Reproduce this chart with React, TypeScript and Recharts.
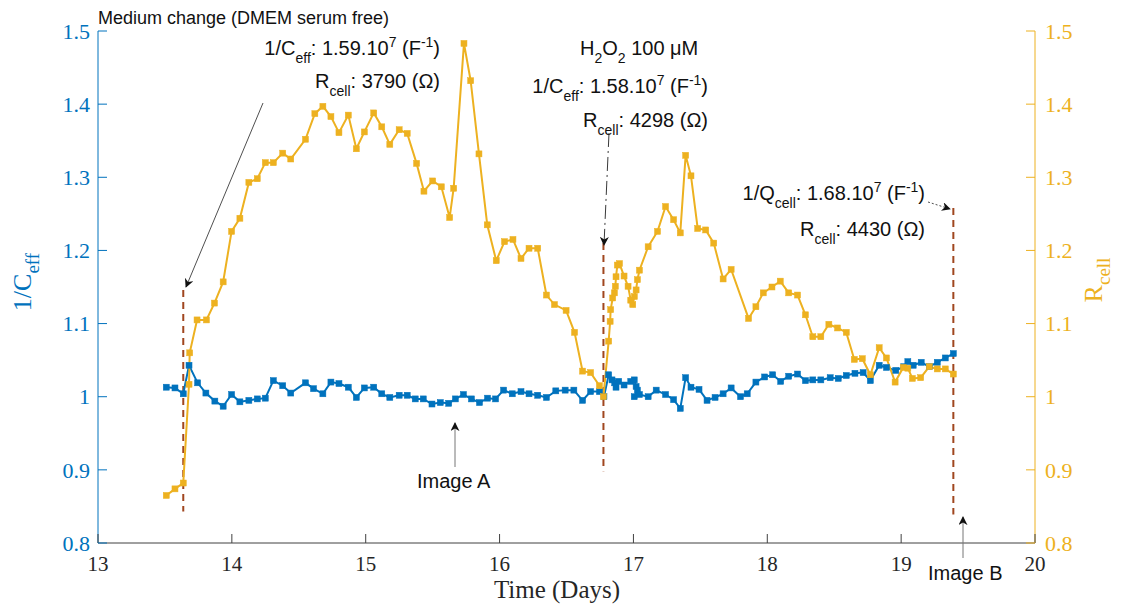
import React from 'react';
import { ComposedChart, Line, XAxis, YAxis, ReferenceLine } from 'recharts';

const xTicks = [13, 14, 15, 16, 17, 18, 19, 20];
const yTicks = [0.8, 0.9, 1, 1.1, 1.2, 1.3, 1.4, 1.5];

// R_cell (right axis)
const rDays = [13.51, 13.575, 13.637, 13.68, 13.685, 13.74, 13.81, 13.87, 13.935, 13.998, 14.06, 14.127, 14.19, 14.25, 14.31, 14.38, 14.44, 14.55, 14.62, 14.68, 14.74, 14.8, 14.87, 14.93, 14.99, 15.06, 15.12, 15.18, 15.25, 15.31, 15.38, 15.435, 15.5, 15.565, 15.627, 15.657, 15.734, 15.784, 15.846, 15.908, 15.975, 16.037, 16.1, 16.16, 16.22, 16.285, 16.35, 16.41, 16.497, 16.56, 16.62, 16.68, 16.746, 16.776, 16.815, 16.826, 16.83, 16.845, 16.858, 16.865, 16.87, 16.88, 16.896, 16.93, 16.96, 16.98, 16.995, 17.007, 17.02, 17.03, 17.045, 17.11, 17.18, 17.24, 17.3, 17.35, 17.39, 17.43, 17.48, 17.54, 17.6, 17.67, 17.73, 17.86, 17.915, 17.97, 18.035, 18.097, 18.16, 18.226, 18.285, 18.34, 18.4, 18.46, 18.525, 18.59, 18.65, 18.71, 18.77, 18.836, 18.89, 18.955, 19.016, 19.05, 19.084, 19.146, 19.21, 19.27, 19.33, 19.39];
const rVals = [0.865, 0.874, 0.882, 1.017, 1.06, 1.105, 1.105, 1.128, 1.157, 1.226, 1.244, 1.293, 1.298, 1.32, 1.32, 1.333, 1.325, 1.352, 1.387, 1.397, 1.383, 1.361, 1.385, 1.339, 1.362, 1.388, 1.369, 1.345, 1.365, 1.36, 1.319, 1.281, 1.295, 1.287, 1.245, 1.285, 1.483, 1.432, 1.332, 1.235, 1.186, 1.212, 1.215, 1.189, 1.203, 1.203, 1.139, 1.126, 1.118, 1.088, 1.035, 1.033, 1.015, 1.0, 1.076, 1.103, 1.119, 1.135, 1.142, 1.151, 1.164, 1.18, 1.182, 1.165, 1.151, 1.132, 1.126, 1.137, 1.146, 1.16, 1.173, 1.205, 1.226, 1.26, 1.242, 1.224, 1.33, 1.302, 1.23, 1.228, 1.21, 1.161, 1.174, 1.107, 1.123, 1.142, 1.15, 1.158, 1.142, 1.139, 1.112, 1.082, 1.082, 1.099, 1.094, 1.088, 1.051, 1.052, 1.03, 1.067, 1.053, 1.02, 1.04, 1.039, 1.025, 1.026, 1.041, 1.038, 1.038, 1.031];

// 1/C_eff (left axis)
const cDays = [13.51, 13.575, 13.637, 13.68, 13.744, 13.806, 13.873, 13.935, 13.998, 14.06, 14.127, 14.19, 14.25, 14.31, 14.38, 14.44, 14.55, 14.61, 14.68, 14.74, 14.8, 14.87, 14.93, 14.99, 15.06, 15.12, 15.18, 15.25, 15.31, 15.37, 15.43, 15.495, 15.557, 15.62, 15.67, 15.73, 15.79, 15.85, 15.91, 15.97, 16.03, 16.095, 16.16, 16.22, 16.285, 16.35, 16.42, 16.49, 16.555, 16.62, 16.68, 16.746, 16.78, 16.815, 16.84, 16.86, 16.87, 16.89, 16.93, 16.98, 17.006, 17.02, 17.03, 17.006, 17.045, 17.11, 17.17, 17.24, 17.3, 17.35, 17.39, 17.43, 17.49, 17.55, 17.61, 17.67, 17.73, 17.8, 17.85, 17.915, 17.98, 18.04, 18.1, 18.16, 18.226, 18.285, 18.34, 18.4, 18.47, 18.53, 18.59, 18.655, 18.716, 18.77, 18.836, 18.89, 18.96, 19.02, 19.05, 19.09, 19.15, 19.21, 19.27, 19.33, 19.39];
const cVals = [1.013, 1.012, 1.004, 1.043, 1.019, 1.005, 0.994, 0.987, 1.003, 0.993, 0.995, 0.997, 0.998, 1.022, 1.015, 1.005, 1.019, 1.011, 1.004, 1.02, 1.018, 1.013, 0.999, 1.012, 1.013, 1.004, 0.999, 1.002, 1.002, 0.997, 0.997, 0.99, 0.992, 0.991, 0.997, 1.003, 0.997, 0.992, 0.998, 0.997, 1.009, 1.004, 1.007, 1.004, 1.002, 0.999, 1.008, 1.009, 1.009, 0.995, 1.007, 1.007, 1.0, 1.03, 1.023, 1.019, 1.013, 1.021, 1.016, 1.021, 1.023, 1.014, 1.009, 1.0, 1.003, 1.0, 1.009, 1.003, 0.996, 0.984, 1.026, 1.013, 1.01, 0.995, 0.999, 1.004, 1.012, 1.0, 1.004, 1.02, 1.027, 1.03, 1.021, 1.028, 1.031, 1.022, 1.023, 1.023, 1.026, 1.025, 1.029, 1.032, 1.033, 1.022, 1.043, 1.04, 1.036, 1.041, 1.048, 1.043, 1.047, 1.041, 1.047, 1.053, 1.059];

// vertical event markers
const eventDays = [13.637, 16.776, 19.39];
const eventTop = [1.146, 1.21, 1.258];
const eventBottom = [0.843, 0.898, 0.839];

const rData = rDays.map((d, i) => ({ d, v: rVals[i] }));
const cData = cDays.map((d, i) => ({ d, v: cVals[i] }));

const BLUE = '#0072BD';
const YELLOW = '#EDB120';
const BROWN = '#A0461F';
const AXIS = '#404040';
const SERIF = '"Liberation Serif", "Times New Roman", serif';
const SANS = '"Liberation Sans", Arial, sans-serif';

const LeftTick = (p: any) => (
  <g>
    <text x={p.x} y={p.y} dy="0.35em" textAnchor="end" fill={BLUE} style={{ fontFamily: SERIF, fontSize: 22 }}>
      {String(p.payload.value)}
    </text>
    <line x1={p.x + 8} x2={p.x + 17} y1={p.y} y2={p.y} stroke={BLUE} strokeWidth={1} />
  </g>
);
const RightTick = (p: any) => (
  <g>
    <text x={p.x} y={p.y} dy="0.35em" textAnchor="start" fill={YELLOW} style={{ fontFamily: SERIF, fontSize: 22 }}>
      {String(p.payload.value)}
    </text>
    <line x1={p.x - 10} x2={p.x - 19} y1={p.y} y2={p.y} stroke={YELLOW} strokeWidth={1} />
  </g>
);
const BottomTick = (p: any) => (
  <g>
    <text x={p.x} y={p.y} dy="0.71em" textAnchor="middle" fill="#262626" style={{ fontFamily: SERIF, fontSize: 21 }}>
      {String(p.payload.value)}
    </text>
    <line x1={p.x} x2={p.x} y1={p.y - 13} y2={p.y - 22} stroke={AXIS} strokeWidth={1} />
  </g>
);
const TopTick = (p: any) => (
  <line x1={p.x} x2={p.x} y1={p.y} y2={p.y + 9} stroke={AXIS} strokeWidth={1} />
);

const sq = (color: string) => (p: any) => (
  <rect key={`d-${p.index}`} x={p.cx - 3} y={p.cy - 3} width={6} height={6} fill={color} stroke={color} strokeWidth={0.5} />
);

type Part = { t: string; k?: 'sub' | 'sup' };
const Rich = ({ x, y, parts, size, anchor }: { x: number; y: number; parts: Part[]; size: number; anchor?: string }) => {
  const small = Math.round(size * 0.72);
  let cur = 0;
  const spans = parts.map((p, i) => {
    const target = p.k === 'sub' ? size * 0.38 : p.k === 'sup' ? -size * 0.42 : 0;
    const dy = target - cur;
    cur = target;
    return (
      <tspan key={i} dy={dy} fontSize={p.k ? small : size}>
        {p.t}
      </tspan>
    );
  });
  return (
    <text x={x} y={y} textAnchor={anchor || 'start'} fontFamily={SANS} fontSize={size} fill="#111">
      {spans}
    </text>
  );
};

export default function App() {
  return (
    <div style={{ position: 'relative', width: 1110, height: 598 }}>
      <ComposedChart width={1110} height={598} margin={{ top: 23, right: 23, left: 30, bottom: 23 }}>
        <XAxis
          xAxisId="b"
          dataKey="d"
          type="number"
          domain={[13, 20]}
          ticks={xTicks}
          allowDataOverflow
          height={40}
          tickSize={0}
          tickMargin={13}
          tick={BottomTick}
          tickLine={false}
          axisLine={{ stroke: AXIS }}
        />
        <XAxis
          xAxisId="t"
          orientation="top"
          type="number"
          domain={[13, 20]}
          ticks={xTicks}
          height={0}
          tickSize={0}
          tickMargin={0}
          tick={TopTick}
          tickLine={false}
          axisLine={{ stroke: AXIS }}
        />
        <YAxis
          yAxisId="left"
          type="number"
          domain={[0.8, 1.5]}
          ticks={yTicks}
          width={60}
          tickSize={0}
          tickMargin={8}
          tick={LeftTick}
          tickLine={false}
          axisLine={{ stroke: BLUE }}
        />
        <YAxis
          yAxisId="right"
          orientation="right"
          type="number"
          domain={[0.8, 1.5]}
          ticks={yTicks}
          width={60}
          tickSize={0}
          tickMargin={10}
          tick={RightTick}
          tickLine={false}
          axisLine={{ stroke: YELLOW }}
        />
        {eventDays.map((d, i) => (
          <ReferenceLine
            key={`ev-${i}`}
            xAxisId="b"
            yAxisId="left"
            segment={[{ x: d, y: eventTop[i] }, { x: d, y: eventBottom[i] }]}
            stroke={BROWN}
            strokeWidth={2}
            strokeDasharray="7 5"
            ifOverflow="visible"
          />
        ))}
        <Line
          xAxisId="b"
          yAxisId="left"
          data={cData}
          dataKey="v"
          type="linear"
          stroke={BLUE}
          strokeWidth={2}
          dot={sq(BLUE)}
          isAnimationActive={false}
        />
        <Line
          xAxisId="b"
          yAxisId="right"
          data={rData}
          dataKey="v"
          type="linear"
          stroke={YELLOW}
          strokeWidth={2}
          dot={sq(YELLOW)}
          isAnimationActive={false}
        />
      </ComposedChart>
      <svg
        width={1110}
        height={598}
        style={{ position: 'absolute', left: 0, top: 0, pointerEvents: 'none' }}
      >
        <defs>
          <marker id="ah" viewBox="0 0 10 10" refX="9" refY="5" markerWidth="9" markerHeight="9" orient="auto-start-reverse" markerUnits="userSpaceOnUse">
            <path d="M0,0 L10,5 L0,10 L3,5 z" fill="#111" />
          </marker>
        </defs>
        {/* axis titles */}
        <text x={0} y={0} transform="translate(23,274) rotate(-90)" textAnchor="middle" style={{ fontFamily: SERIF, fontSize: 26 }} fill={BLUE}>
          1/C<tspan dy={8} fontSize={19}>eff</tspan>
        </text>
        <text x={0} y={0} transform="translate(1094,272) rotate(-90)" textAnchor="middle" style={{ fontFamily: SERIF, fontSize: 26 }} fill={YELLOW}>
          R<tspan dy={8} fontSize={19}>cell</tspan>
        </text>
        <text x={549} y={590} textAnchor="middle" style={{ fontFamily: SERIF, fontSize: 25 }} fill="#262626">
          Time (Days)
        </text>

        {/* annotations */}
        <text x={90} y={16} fontFamily={SANS} fontSize={18} fill="#111">Medium change (DMEM serum free)</text>
        <Rich x={432} y={47} size={20} anchor="end" parts={[{ t: '1/C' }, { t: 'eff', k: 'sub' }, { t: ': 1.59.10' }, { t: '7', k: 'sup' }, { t: ' (F' }, { t: '-1', k: 'sup' }, { t: ')' }]} />
        <Rich x={432} y={80} size={20} anchor="end" parts={[{ t: 'R' }, { t: 'cell', k: 'sub' }, { t: ': 3790 (Ω)' }]} />

        <Rich x={572} y={47} size={20} parts={[{ t: 'H' }, { t: '2', k: 'sub' }, { t: 'O' }, { t: '2', k: 'sub' }, { t: ' 100 μM' }]} />
        <Rich x={700} y={85} size={20} anchor="end" parts={[{ t: '1/C' }, { t: 'eff', k: 'sub' }, { t: ': 1.58.10' }, { t: '7', k: 'sup' }, { t: ' (F' }, { t: '-1', k: 'sup' }, { t: ')' }]} />
        <Rich x={700} y={119} size={20} anchor="end" parts={[{ t: 'R' }, { t: 'cell', k: 'sub' }, { t: ': 4298 (Ω)' }]} />

        <Rich x={917} y={192} size={20} anchor="end" parts={[{ t: '1/Q' }, { t: 'cell', k: 'sub' }, { t: ': 1.68.10' }, { t: '7', k: 'sup' }, { t: ' (F' }, { t: '-1', k: 'sup' }, { t: ')' }]} />
        <Rich x={917} y={228} size={20} anchor="end" parts={[{ t: 'R' }, { t: 'cell', k: 'sub' }, { t: ': 4430 (Ω)' }]} />

        <text x={409} y={480} fontFamily={SANS} fontSize={20} fill="#111">Image A</text>
        <text x={920} y={572} fontFamily={SANS} fontSize={20} fill="#111">Image B</text>

        {/* arrows */}
        <line x1={255} y1={95} x2={178} y2={279} stroke="#222" strokeWidth={0.8} markerEnd="url(#ah)" />
        <line x1={601} y1={125} x2={596} y2={237} stroke="#222" strokeWidth={0.9} strokeDasharray="14 4 2 4" markerEnd="url(#ah)" />
        <line x1={920} y1={194} x2={942} y2={201} stroke="#222" strokeWidth={0.8} strokeDasharray="2 2" markerEnd="url(#ah)" />
        <line x1={447} y1={459} x2={447} y2={415} stroke="#777" strokeWidth={1} markerEnd="url(#ah)" />
        <line x1={955} y1={550} x2={955} y2={509} stroke="#777" strokeWidth={1} markerEnd="url(#ah)" />
      </svg>
    </div>
  );
}
